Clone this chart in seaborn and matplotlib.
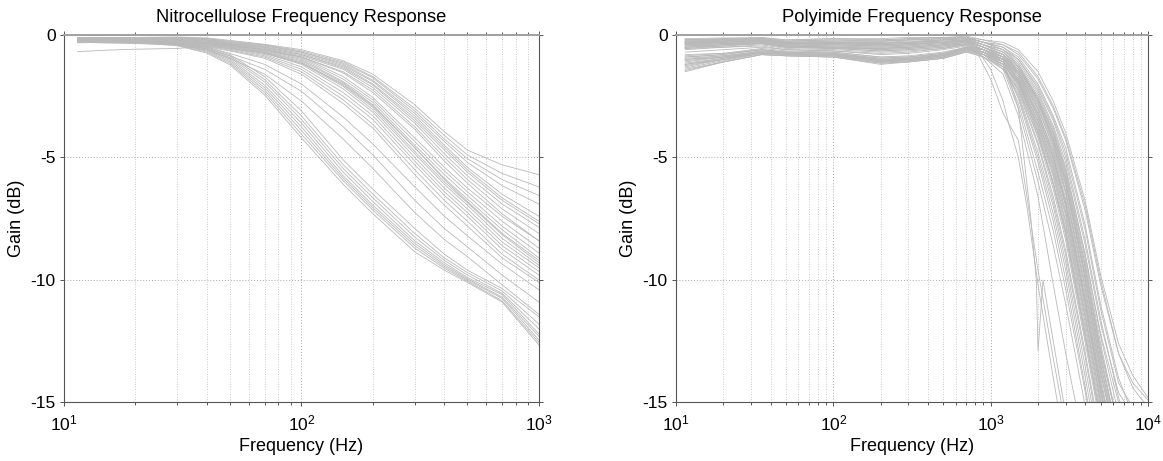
import numpy as np
import pandas as pd
import seaborn as sns
import matplotlib
matplotlib.use("Agg")
import matplotlib.pyplot as plt
from matplotlib.ticker import LogLocator, NullFormatter

# Nitrocellulose: gain (dB) read at these frequencies (Hz)
NC_FREQ = [11.4, 15, 20, 30, 40, 50, 70, 100, 150, 200, 300, 400, 500, 700, 1000]

nc_upper = [
    [-0.10, -0.10, -0.10, -0.08, -0.12, -0.22, -0.38, -0.60, -1.05, -1.60, -2.85, -3.95, -4.70, -5.30, -5.70],
    [-0.12, -0.10, -0.12, -0.10, -0.15, -0.25, -0.40, -0.65, -1.10, -1.70, -3.00, -4.10, -4.90, -5.65, -6.20],
    [-0.15, -0.12, -0.12, -0.10, -0.15, -0.28, -0.42, -0.70, -1.15, -1.75, -3.10, -4.25, -5.05, -5.90, -6.55],
    [-0.12, -0.15, -0.15, -0.12, -0.18, -0.30, -0.45, -0.70, -1.20, -1.85, -3.20, -4.35, -5.20, -6.15, -6.90],
    [-0.18, -0.15, -0.15, -0.12, -0.20, -0.32, -0.48, -0.75, -1.25, -1.90, -3.30, -4.50, -5.40, -6.50, -7.40],
    [-0.15, -0.18, -0.18, -0.15, -0.20, -0.35, -0.50, -0.80, -1.30, -2.00, -3.40, -4.60, -5.50, -6.65, -7.60],
    [-0.20, -0.18, -0.18, -0.15, -0.22, -0.35, -0.52, -0.80, -1.35, -2.05, -3.50, -4.70, -5.60, -6.75, -7.70],
    [-0.18, -0.20, -0.20, -0.18, -0.25, -0.38, -0.55, -0.85, -1.40, -2.15, -3.60, -4.85, -5.75, -6.90, -7.85],
    [-0.22, -0.20, -0.20, -0.18, -0.25, -0.40, -0.58, -0.90, -1.50, -2.25, -3.75, -5.00, -5.90, -7.10, -8.10],
    [-0.20, -0.22, -0.22, -0.20, -0.28, -0.42, -0.60, -0.90, -1.55, -2.35, -3.85, -5.15, -6.05, -7.30, -8.40],
]
nc_middle = [
    [-0.20, -0.20, -0.22, -0.20, -0.30, -0.40, -0.60, -0.90, -1.70, -2.55, -4.20, -5.40, -6.25, -7.40, -8.40],
    [-0.22, -0.22, -0.22, -0.22, -0.32, -0.42, -0.62, -0.95, -1.80, -2.65, -4.35, -5.55, -6.40, -7.60, -8.70],
    [-0.25, -0.22, -0.25, -0.22, -0.32, -0.45, -0.65, -1.00, -1.90, -2.75, -4.50, -5.70, -6.55, -7.80, -8.90],
    [-0.22, -0.25, -0.25, -0.25, -0.35, -0.45, -0.68, -1.05, -1.95, -2.85, -4.60, -5.85, -6.70, -7.95, -9.10],
    [-0.28, -0.25, -0.25, -0.25, -0.35, -0.48, -0.70, -1.10, -2.05, -2.95, -4.75, -6.00, -6.85, -8.15, -9.30],
    [-0.25, -0.28, -0.28, -0.25, -0.38, -0.50, -0.72, -1.15, -2.10, -3.05, -4.85, -6.10, -6.95, -8.30, -9.40],
    [-0.30, -0.28, -0.28, -0.28, -0.38, -0.52, -0.75, -1.20, -2.20, -3.15, -5.00, -6.25, -7.10, -8.45, -9.50],
    [-0.28, -0.30, -0.30, -0.28, -0.40, -0.55, -0.80, -1.30, -2.35, -3.30, -5.15, -6.40, -7.25, -8.60, -9.65],
    [-0.30, -0.30, -0.30, -0.30, -0.42, -0.58, -0.85, -1.40, -2.50, -3.45, -5.30, -6.55, -7.40, -8.75, -9.80],
    [-0.32, -0.30, -0.32, -0.30, -0.45, -0.62, -0.90, -1.50, -2.65, -3.65, -5.50, -6.75, -7.60, -8.95, -10.00],
    [-0.30, -0.32, -0.32, -0.32, -0.48, -0.65, -0.95, -1.60, -2.80, -3.80, -5.70, -6.95, -7.80, -9.10, -10.10],
]
nc_between = [
    [-0.28, -0.28, -0.30, -0.35, -0.50, -0.75, -1.20, -2.00, -3.35, -4.45, -6.20, -7.40, -8.20, -9.35, -10.40],
    [-0.30, -0.30, -0.32, -0.38, -0.56, -0.85, -1.40, -2.30, -3.75, -4.90, -6.75, -7.90, -8.65, -9.80, -10.90],
    [-0.30, -0.32, -0.35, -0.40, -0.62, -0.95, -1.60, -2.70, -4.25, -5.45, -7.25, -8.35, -9.05, -10.20, -11.40],
]
nc_lower = [
    [-0.20, -0.20, -0.22, -0.30, -0.48, -0.80, -1.70, -3.10, -5.10, -6.30, -7.90, -8.95, -9.60, -10.35, -11.50],
    [-0.22, -0.22, -0.24, -0.32, -0.52, -0.86, -1.82, -3.30, -5.30, -6.50, -8.10, -9.10, -9.70, -10.45, -11.80],
    [-0.22, -0.24, -0.26, -0.34, -0.55, -0.92, -1.92, -3.45, -5.45, -6.65, -8.25, -9.20, -9.80, -10.55, -12.00],
    [-0.25, -0.24, -0.27, -0.36, -0.58, -0.98, -2.05, -3.60, -5.60, -6.80, -8.40, -9.30, -9.90, -10.60, -12.20],
    [-0.24, -0.26, -0.28, -0.38, -0.62, -1.04, -2.15, -3.75, -5.75, -6.95, -8.50, -9.38, -9.95, -10.70, -12.30],
    [-0.27, -0.26, -0.30, -0.40, -0.66, -1.10, -2.25, -3.90, -5.85, -7.05, -8.60, -9.45, -10.00, -10.75, -12.45],
    [-0.26, -0.28, -0.30, -0.42, -0.70, -1.16, -2.35, -4.05, -5.95, -7.15, -8.70, -9.52, -10.05, -10.85, -12.55],
    [-0.30, -0.28, -0.32, -0.44, -0.74, -1.22, -2.45, -4.20, -6.10, -7.30, -8.85, -9.60, -10.10, -10.90, -12.65],
]
nc_outlier = [-0.68, -0.62, -0.58, -0.55, -0.45, -0.55, -0.75, -1.15, -2.00, -2.90, -4.60, -5.90, -6.80, -8.10, -9.20]

# Polyimide: flat band part + roll-off part, paired row by row
PI_LOW_FREQ = [11.4, 20, 35, 50, 100, 200, 300, 500, 700]
PI_HIGH_FREQ = [900, 1200, 1500, 2000, 2500, 3000, 4000, 5000, 6500, 8000, 10000]

pi_flat = [
    [-0.20, -0.15, -0.10, -0.20, -0.15, -0.15, -0.10, -0.10, -0.05],
    [-0.25, -0.20, -0.15, -0.25, -0.20, -0.20, -0.15, -0.10, -0.10],
    [-0.30, -0.20, -0.20, -0.30, -0.25, -0.25, -0.20, -0.15, -0.10],
    [-0.35, -0.25, -0.15, -0.30, -0.30, -0.30, -0.25, -0.20, -0.15],
    [-0.20, -0.20, -0.25, -0.35, -0.30, -0.30, -0.30, -0.20, -0.15],
    [-0.40, -0.30, -0.20, -0.35, -0.35, -0.35, -0.30, -0.25, -0.20],
    [-0.30, -0.25, -0.30, -0.40, -0.40, -0.40, -0.35, -0.30, -0.20],
    [-0.45, -0.35, -0.20, -0.40, -0.45, -0.45, -0.40, -0.30, -0.25],
    [-0.25, -0.30, -0.35, -0.45, -0.50, -0.50, -0.45, -0.35, -0.25],
    [-0.50, -0.40, -0.30, -0.50, -0.55, -0.55, -0.50, -0.40, -0.30],
    [-0.30, -0.30, -0.20, -0.30, -0.35, -0.40, -0.35, -0.30, -0.20],
    [-0.35, -0.30, -0.25, -0.45, -0.50, -0.60, -0.55, -0.45, -0.35],
    [-1.20, -0.95, -0.70, -0.75, -0.80, -1.05, -1.00, -0.85, -0.60],
    [-1.35, -1.05, -0.75, -0.80, -0.85, -1.10, -1.05, -0.90, -0.65],
    [-1.50, -1.10, -0.80, -0.85, -0.90, -1.15, -1.10, -0.95, -0.70],
    [-1.00, -0.85, -0.65, -0.70, -0.75, -1.00, -0.95, -0.80, -0.55],
    [-0.90, -0.80, -0.60, -0.70, -0.70, -0.90, -0.90, -0.75, -0.50],
    [-1.10, -0.90, -0.70, -0.80, -0.80, -1.00, -1.00, -0.85, -0.60],
    [-0.80, -0.75, -0.55, -0.65, -0.70, -0.90, -0.85, -0.70, -0.50],
    [-1.25, -1.00, -0.75, -0.80, -0.85, -1.10, -1.05, -0.90, -0.60],
    [-1.40, -1.10, -0.80, -0.85, -0.90, -1.20, -1.10, -0.95, -0.70],
    [-0.95, -0.85, -0.70, -0.75, -0.80, -1.00, -0.95, -0.80, -0.55],
    [-0.20, -0.15, -0.15, -0.25, -0.20, -0.25, -0.20, -0.15, -0.10],
    [-0.30, -0.25, -0.20, -0.30, -0.30, -0.35, -0.30, -0.20, -0.15],
    [-0.60, -0.50, -0.40, -0.55, -0.60, -0.70, -0.65, -0.55, -0.40],
    [-0.70, -0.60, -0.50, -0.60, -0.65, -0.80, -0.75, -0.60, -0.45],
    [-0.40, -0.35, -0.30, -0.40, -0.45, -0.50, -0.45, -0.35, -0.30],
    [-0.25, -0.20, -0.20, -0.30, -0.30, -0.35, -0.30, -0.25, -0.20],
    [-1.30, -1.00, -0.70, -0.80, -0.85, -1.10, -1.00, -0.85, -0.60],
    [-0.55, -0.45, -0.35, -0.50, -0.55, -0.65, -0.60, -0.50, -0.35],
    [-0.35, -0.30, -0.25, -0.35, -0.40, -0.45, -0.40, -0.30, -0.25],
    [-1.00, -0.90, -0.65, -0.75, -0.80, -1.00, -0.95, -0.80, -0.55],
    [-0.45, -0.40, -0.30, -0.45, -0.50, -0.55, -0.50, -0.40, -0.30],
    [-1.15, -0.95, -0.70, -0.75, -0.80, -1.05, -1.00, -0.85, -0.60],
    [-0.15, -0.12, -0.12, -0.20, -0.15, -0.20, -0.15, -0.10, -0.10],
    [-0.55, -0.50, -0.45, -0.60, -0.65, -0.75, -0.70, -0.55, -0.40],
    [-1.05, -0.90, -0.70, -0.80, -0.80, -1.05, -1.00, -0.80, -0.55],
    [-0.30, -0.25, -0.25, -0.35, -0.35, -0.40, -0.35, -0.30, -0.20],
    [-0.40, -0.30, -0.30, -0.40, -0.40, -0.45, -0.40, -0.30, -0.25],
    [-1.45, -1.10, -0.80, -0.85, -0.90, -1.15, -1.10, -0.95, -0.65],
    [-0.20, -0.20, -0.15, -0.25, -0.25, -0.25, -0.20, -0.15, -0.10],
    [-0.85, -0.75, -0.60, -0.70, -0.75, -0.95, -0.90, -0.75, -0.50],
    [-0.50, -0.40, -0.35, -0.50, -0.50, -0.60, -0.55, -0.45, -0.30],
    [-1.20, -1.00, -0.75, -0.80, -0.85, -1.10, -1.05, -0.90, -0.60],
]
pi_drop = [
    [-0.2, -0.4, -0.8, -1.8, -3.0, -4.3, -7.2, -10.2, -13.0, -14.2, -14.9],
    [-0.3, -0.5, -0.9, -2.0, -3.3, -4.6, -7.8, -11.0, -14.0, -15.5, -16.5],
    [-0.3, -0.6, -1.0, -2.2, -3.5, -5.0, -8.4, -11.6, -14.8, -16.5, -18.0],
    [-0.4, -0.7, -1.2, -2.4, -3.8, -5.4, -9.0, -12.3, -15.5, -17.0, -18.0],
    [-0.4, -0.7, -1.3, -2.6, -4.0, -5.7, -9.4, -12.8, -16.0, -18.0, -19.0],
    [-0.4, -0.8, -1.4, -2.8, -4.3, -6.0, -9.8, -13.2, -16.5, -18.0, -19.0],
    [-0.5, -0.8, -1.5, -3.0, -4.6, -6.4, -10.2, -13.6, -17.0, -19.0, -20.0],
    [-0.5, -0.9, -1.6, -3.2, -4.8, -6.7, -10.6, -14.0, -17.5, -19.0, -20.0],
    [-0.5, -0.9, -1.7, -3.4, -5.1, -7.0, -11.0, -14.4, -18.0, -19.0, -20.0],
    [-0.6, -1.0, -1.8, -3.6, -5.4, -7.3, -11.4, -14.8, -18.0, -20.0, -21.0],
    [-0.5, -0.9, -1.9, -3.8, -5.7, -7.7, -11.8, -15.2, -18.5, -20.0, -21.0],
    [-0.6, -1.1, -2.0, -4.0, -6.0, -8.0, -12.2, -15.6, -19.0, -20.0, -21.0],
    [-0.7, -1.0, -1.6, -3.0, -4.5, -6.2, -10.0, -13.4, -17.0, -19.0, -20.0],
    [-0.8, -1.1, -1.8, -3.3, -5.0, -6.8, -10.8, -14.2, -17.5, -19.0, -20.0],
    [-0.8, -1.2, -2.0, -3.7, -5.5, -7.4, -11.5, -15.0, -18.0, -20.0, -21.0],
    [-0.6, -0.9, -1.4, -2.6, -4.0, -5.6, -9.2, -12.6, -16.0, -18.0, -19.0],
    [-0.6, -0.9, -1.5, -2.8, -4.2, -5.9, -9.6, -13.0, -16.5, -18.0, -19.0],
    [-0.7, -1.1, -2.2, -4.4, -6.6, -8.8, -13.0, -16.5, -20.0, -21.0, -22.0],
    [-0.6, -1.0, -1.9, -3.9, -5.8, -7.9, -12.0, -15.4, -19.0, -20.0, -21.0],
    [-0.7, -1.0, -1.7, -3.2, -4.7, -6.5, -10.4, -13.8, -17.0, -19.0, -20.0],
    [-0.9, -1.3, -2.4, -4.8, -7.0, -9.3, -13.6, -17.0, -20.0, -21.0, -22.0],
    [-0.7, -1.2, -2.6, -5.2, -7.6, -10.0, -14.4, -18.0, -21.0, -22.0, -23.0],
    [-0.2, -0.3, -0.6, -1.5, -2.7, -4.0, -6.8, -9.8, -12.6, -13.9, -14.8],
    [-0.3, -0.4, -0.7, -1.7, -2.9, -4.2, -7.0, -10.0, -13.0, -14.4, -15.2],
    [-0.8, -1.4, -3.0, -6.0, -8.6, -11.0, -15.2, -19.0, -22.0, -23.0, -24.0],
    [-0.9, -1.6, -3.3, -6.6, -10.2, -13.0, -17.0, -20.0, -22.0, -23.0, -24.0],
    [-0.5, -0.8, -1.3, -2.5, -3.9, -5.5, -9.0, -12.2, -15.0, -16.5, -18.0],
    [-0.4, -0.6, -1.1, -2.3, -3.7, -5.2, -8.6, -11.8, -14.6, -15.5, -16.0],
    [-0.7, -1.0, -1.5, -2.9, -4.4, -6.1, -9.8, -13.2, -16.5, -18.0, -19.0],
    [-0.6, -1.0, -1.8, -3.5, -5.3, -7.2, -11.2, -14.6, -18.0, -19.0, -20.0],
    [-0.5, -0.8, -1.4, -2.7, -4.1, -5.8, -9.5, -12.9, -16.0, -17.5, -19.0],
    [-0.7, -1.1, -2.1, -4.2, -6.3, -8.4, -12.6, -16.0, -19.0, -20.0, -21.0],
    [-0.6, -1.0, -1.9, -3.7, -5.6, -7.6, -11.6, -15.0, -18.5, -20.0, -21.0],
    [-0.8, -1.2, -2.3, -4.5, -6.8, -9.0, -13.2, -16.7, -20.0, -21.0, -22.0],
    [-0.3, -0.6, -1.2, -2.6, -4.4, -6.4, -10.4, -13.8, -17.0, -18.0, -19.0],
    [-0.7, -1.3, -2.8, -5.6, -8.0, -10.4, -14.6, -18.0, -20.0, -21.0, -22.0],
    [-0.8, -1.3, -2.5, -5.0, -7.3, -9.6, -14.0, -17.5, -20.0, -21.0, -22.0],
    [-0.4, -0.7, -1.3, -2.7, -4.2, -6.0, -10.0, -13.5, -16.5, -18.0, -19.0],
    [-0.5, -0.8, -1.5, -3.1, -4.9, -6.9, -11.0, -14.6, -17.5, -19.0, -20.0],
    [-0.9, -1.4, -2.2, -4.1, -6.1, -8.2, -12.4, -15.8, -19.0, -20.0, -21.0],
    [-0.3, -0.5, -1.0, -2.1, -3.4, -4.8, -8.0, -11.2, -14.2, -15.2, -15.8],
    [-0.7, -1.1, -2.0, -4.0, -6.1, -8.1, -12.3, -15.7, -19.0, -20.0, -21.0],
    [-0.6, -0.9, -1.6, -3.3, -5.0, -6.9, -10.8, -14.2, -17.5, -19.0, -20.0],
    [-0.8, -1.2, -1.9, -3.5, -5.2, -7.0, -11.0, -14.4, -18.0, -19.0, -20.0],
]

# curves that fall off early, read on their own frequency points
pi_early_freq = [11.4, 20, 35, 50, 100, 200, 300, 500, 700, 800, 1000, 1200, 1300, 1500, 1700, 2000, 2500, 3000]
pi_early_a = [-0.50, -0.45, -0.35, -0.50, -0.55, -0.65, -0.60, -0.50, -0.40, -0.60, -1.8, -3.2, -3.6, -4.3, -6.6, -9.6, -13.2, -16.0]
pi_early_b = [-0.90, -0.80, -0.60, -0.70, -0.75, -0.95, -0.90, -0.75, -0.50, -0.50, -1.4, -2.7, -3.6, -5.0, -7.0, -10.2, -14.0, -17.0]
pi_notch_freq = [11.4, 20, 35, 50, 100, 200, 300, 500, 700, 900, 1200, 1500, 1800, 1950, 2000, 2150, 2500, 3000]
pi_notch = [-0.40, -0.35, -0.30, -0.45, -0.50, -0.55, -0.50, -0.40, -0.40, -0.60, -1.0, -3.0, -7.5, -10.0, -12.9, -10.0, -12.5, -15.5]

LINE_COLOR = "#b9b9b9"

sns.set_style("white")
plt.rcParams["font.family"] = ["Liberation Sans", "DejaVu Sans"]
plt.rcParams["axes.unicode_minus"] = False
plt.rcParams["text.color"] = "black"
plt.rcParams["axes.labelcolor"] = "black"


def long_table(prefix, freq_lists, gain_lists):
    rows = []
    for i, (fr, gains) in enumerate(zip(freq_lists, gain_lists)):
        for f, g in zip(fr, gains):
            rows.append({"curve": "{0}{1}".format(prefix, i), "freq": f, "gain": g})
    return pd.DataFrame(rows)


nc_curves = nc_upper + nc_middle + nc_between + nc_lower + [nc_outlier]
df_nc = long_table("nc", [NC_FREQ] * len(nc_curves), nc_curves)

pi_freqs = [PI_LOW_FREQ + PI_HIGH_FREQ] * len(pi_flat) + [pi_early_freq, pi_early_freq, pi_notch_freq]
pi_gains = [a + b for a, b in zip(pi_flat, pi_drop)] + [pi_early_a, pi_early_b, pi_notch]
df_pi = long_table("pi", pi_freqs, pi_gains)


def style_axes(ax, xmax, title):
    ax.set_xscale("log")
    ax.set_xlim(10, xmax)
    ax.set_ylim(-15, 0)
    ax.set_yticks([0, -5, -10, -15])
    ax.xaxis.set_major_locator(LogLocator(base=10, numticks=10))
    ax.xaxis.set_minor_locator(LogLocator(base=10, subs=np.arange(2, 10), numticks=20))
    ax.xaxis.set_minor_formatter(NullFormatter())
    ax.set_axisbelow(True)
    ax.grid(True, which="major", axis="both", ls=(0, (1, 2)), color="#a8a8a8", lw=0.7)
    ax.grid(True, which="minor", axis="x", ls=(0, (1, 2)), color="#bcbcbc", lw=0.6)
    ax.tick_params(which="both", direction="out", top=True, right=True, bottom=True, left=True,
                   length=3, width=0.7, color="#555555", labelcolor="black", labelsize=12.5)
    ax.tick_params(axis="x", which="major", pad=5)
    ax.tick_params(axis="y", pad=3)
    ax.tick_params(which="minor", length=2)
    for side in ["left", "bottom", "right"]:
        ax.spines[side].set_color("#555555")
        ax.spines[side].set_linewidth(0.8)
    ax.spines["top"].set_color("#a0a0a0")
    ax.spines["top"].set_linewidth(1.4)
    ax.set_title(title, fontsize=13.2, pad=9)
    ax.set_xlabel("Frequency (Hz)", fontsize=13, labelpad=3)
    ax.set_ylabel("Gain (dB)", fontsize=13, labelpad=4)


fig = plt.figure(figsize=(11.63, 4.61), dpi=100)
ax1 = fig.add_axes([0.0550, 0.1269, 0.4084, 0.7972])
ax2 = fig.add_axes([0.5813, 0.1269, 0.4058, 0.7972])

sns.lineplot(data=df_nc, x="freq", y="gain", units="curve", estimator=None,
             color=LINE_COLOR, linewidth=0.6, ax=ax1, legend=False)
sns.lineplot(data=df_pi, x="freq", y="gain", units="curve", estimator=None,
             color=LINE_COLOR, linewidth=0.6, ax=ax2, legend=False)

style_axes(ax1, 1000, "Nitrocellulose Frequency Response")
style_axes(ax2, 10000, "Polyimide Frequency Response")

fig.savefig("out.png", dpi=100)
